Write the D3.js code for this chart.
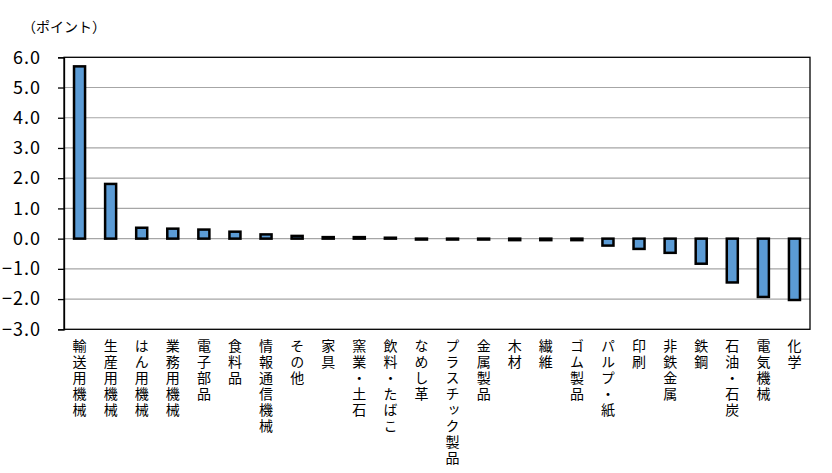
<!DOCTYPE html>
<html><head><meta charset="utf-8">
<script src="https://cdn.jsdelivr.net/npm/d3@7"></script>
<style>body{margin:0;background:#fff}</style>
</head><body><svg id="c" width="832" height="473"></svg>
<script>
const categories = ["輸送用機械","生産用機械","はん用機械","業務用機械","電子部品","食料品","情報通信機械","その他","家具","窯業・土石","飲料・たばこ","なめし革","プラスチック製品","金属製品","木材","繊維","ゴム製品","パルプ・紙","印刷","非鉄金属","鉄鋼","石油・石炭","電気機械","化学"];
const values = [5.70,1.81,0.36,0.33,0.30,0.23,0.14,0.09,0.05,0.05,0.03,-0.03,-0.03,-0.03,-0.05,-0.05,-0.05,-0.23,-0.34,-0.47,-0.83,-1.45,-1.93,-2.03];
const yTicks = [6,5,4,3,2,1,0,-1,-2,-3];
const unitLabel = "（ポイント）";

const svg = d3.select("#c");
const L = 64, R = 810, T = 57.3, B = 329.3;
const font = "'Noto Sans CJK JP','Noto Sans',sans-serif";
const x = d3.scaleBand().domain(categories).range([L, R]).padding(0);
const y = d3.scaleLinear().domain([-3, 6]).range([B, T]);

// gridlines
svg.append("g").selectAll("line").data(yTicks.filter(t => t > -3 && t < 6)).join("line")
  .attr("x1", L).attr("x2", R).attr("y1", d => y(d)).attr("y2", d => y(d))
  .attr("stroke", "#a6a6a6").attr("stroke-width", 1.2);

// bars
const bw = x.bandwidth() * 0.355;
svg.append("g").selectAll("rect").data(values).join("rect")
  .attr("x", (d, i) => x(categories[i]) + x.bandwidth() / 2 - bw / 2)
  .attr("width", bw)
  .attr("y", d => y(Math.max(0, d)))
  .attr("height", d => Math.abs(y(d) - y(0)))
  .attr("fill", "#5b9bd5").attr("stroke", "#000").attr("stroke-width", 2.5);

// frame
svg.append("rect").attr("x", L).attr("y", T).attr("width", R - L).attr("height", B - T)
  .attr("fill", "none").attr("stroke", "#000").attr("stroke-width", 1.3);

// y axis
const yAxis = d3.axisLeft(y).tickValues(yTicks).tickSize(6).tickPadding(17)
  .tickFormat(d => d3.format(".1f")(d).replace("-", "−"));
const ga = svg.append("g").attr("transform", `translate(${L},0)`).call(yAxis);
ga.select(".domain").attr("stroke", "#000").attr("stroke-width", 1.3);
ga.selectAll(".tick line").attr("stroke", "#000").attr("stroke-width", 1.3);
ga.selectAll(".tick text").attr("font-family", font).attr("font-size", 18).attr("fill", "#000")
  .attr("letter-spacing", 1);

// category labels (vertical)
svg.append("g").selectAll("text").data(categories).join("text")
  .attr("x", d => x(d) + x.bandwidth() / 2)
  .attr("y", 339)
  .attr("writing-mode", "vertical-rl")
  .attr("text-orientation", "upright")
  .attr("font-family", font).attr("font-size", 14).attr("letter-spacing", 2)
  .attr("fill", "#000")
  .style("dominant-baseline", "central")
  .text(d => d);

svg.append("text").attr("x", 22).attr("y", 32).attr("font-family", font).attr("font-size", 14)
  .attr("fill", "#000").text(unitLabel);
</script></body></html>
